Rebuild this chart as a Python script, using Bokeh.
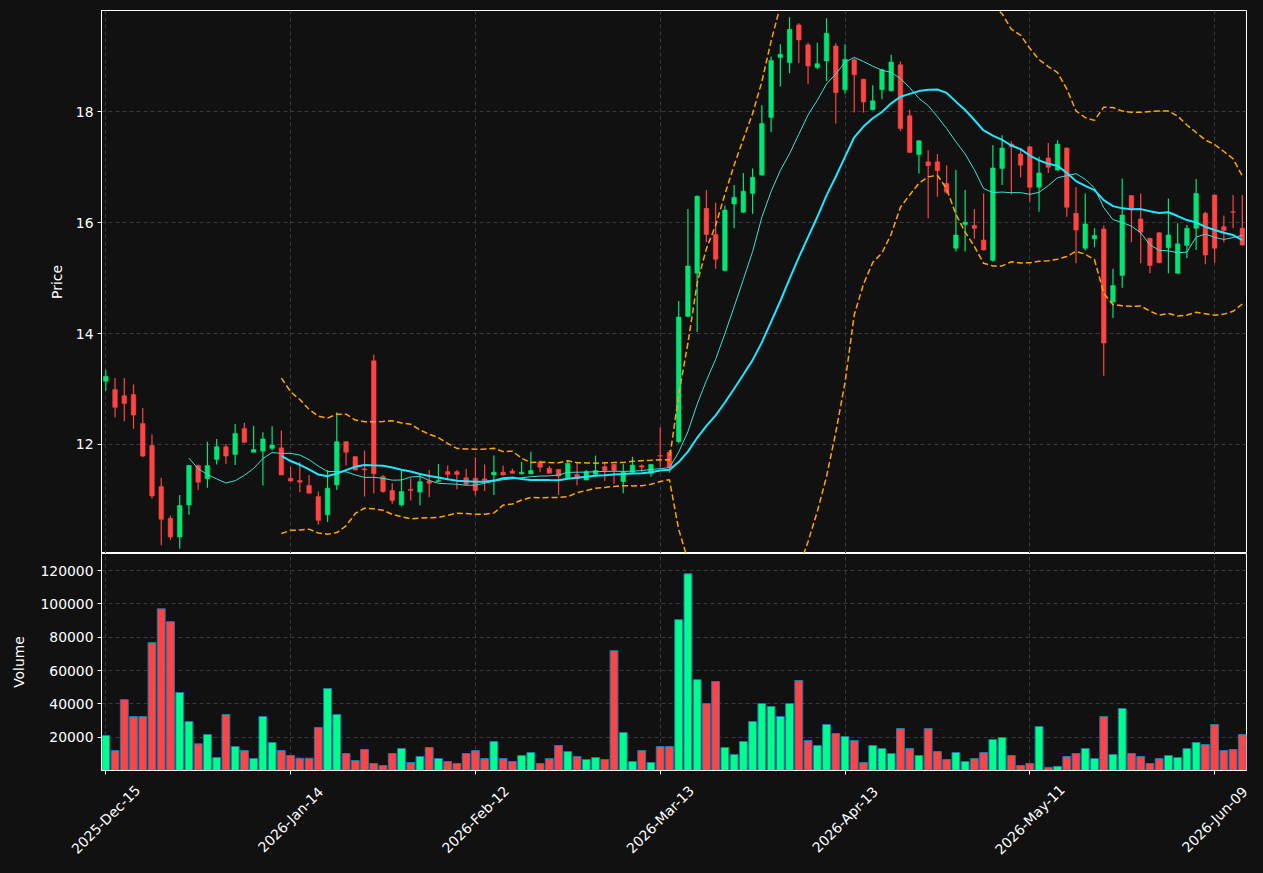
import numpy as np
import pandas as pd
from bokeh.plotting import figure
from bokeh.models import ColumnDataSource, FixedTicker, Range1d
from bokeh.core.properties import value
from bokeh.layouts import column
from bokeh.embed import file_html
from bokeh.resources import INLINE

# ---------------- data ----------------
opens = [13.14, 12.99, 12.88, 12.90, 12.38, 11.98, 11.24, 10.67, 10.33, 10.91,
         11.62, 11.38, 11.73, 11.96, 11.82, 12.29, 11.86, 11.88, 11.93, 11.94,
         11.39, 11.35, 11.26, 11.06, 10.73, 11.27, 12.05, 11.78, 11.56, 13.51,
         11.42, 11.17, 10.91, 11.19, 11.14, 11.34, 11.33, 11.51, 11.51, 11.40,
         11.39, 11.38, 11.45, 11.50, 11.52, 11.47, 11.47, 11.68, 11.57, 11.55,
         11.40, 11.46, 11.36, 11.46, 11.60, 11.64, 11.33, 11.50, 11.62, 11.48,
         11.80, 11.86, 12.05, 14.31, 15.09, 16.26, 15.79, 15.14, 16.34, 16.19,
         16.53, 16.86, 17.90, 18.98, 18.89, 19.57, 19.21, 18.80, 18.92, 19.19,
         18.40, 18.94, 18.59, 18.04, 18.40, 18.38, 18.85, 17.93, 17.23, 17.10,
         17.10, 16.71, 15.54, 15.97, 15.95, 15.69, 15.32, 16.98, 17.42, 17.24,
         17.37, 16.64, 17.17, 16.95, 17.35, 16.17, 15.54, 15.71, 15.89, 14.57,
         15.05, 16.49, 16.07, 15.72, 15.82, 15.55, 15.09, 15.59, 15.90, 16.17,
         16.50, 15.93, 16.20, 15.90]
highs = [13.35, 13.20, 13.20, 13.08, 12.66, 12.18, 11.40, 10.72, 11.09, 11.63,
         11.64, 12.05, 12.10, 12.01, 12.37, 12.39, 12.34, 12.22, 12.33, 12.25,
         11.60, 11.68, 11.45, 11.15, 11.54, 12.58, 12.06, 11.79, 11.89, 13.62,
         11.45, 11.30, 11.53, 11.39, 11.47, 11.54, 11.65, 11.62, 11.54, 11.56,
         11.77, 11.64, 11.80, 11.62, 11.56, 11.69, 11.87, 11.71, 11.61, 11.56,
         11.71, 11.68, 11.54, 11.80, 11.68, 11.65, 11.65, 11.78, 11.64, 11.65,
         12.31, 11.90, 14.59, 16.25, 16.49, 16.59, 16.36, 16.31, 16.68, 16.90,
         16.98, 18.12, 19.00, 19.22, 19.71, 19.60, 19.25, 19.25, 19.69, 19.24,
         19.22, 18.97, 18.60, 18.48, 18.78, 19.03, 18.91, 18.04, 17.49, 17.31,
         17.24, 17.04, 16.95, 16.59, 16.25, 16.53, 17.40, 17.58, 17.47, 17.32,
         17.38, 17.19, 17.44, 17.49, 17.36, 16.64, 16.53, 15.90, 15.95, 15.17,
         16.80, 16.50, 16.53, 15.73, 15.83, 16.44, 15.99, 15.96, 16.79, 16.20,
         16.51, 16.13, 16.50, 16.50]
lows = [12.97, 12.49, 12.42, 12.28, 11.77, 11.02, 10.18, 10.28, 10.12, 10.73,
        11.18, 11.22, 11.64, 11.65, 11.63, 12.03, 11.86, 11.26, 11.89, 11.45,
        11.34, 11.14, 11.12, 10.55, 10.60, 11.18, 11.62, 11.53, 11.06, 11.12,
        11.13, 10.93, 10.88, 10.99, 10.90, 11.05, 11.32, 11.35, 11.19, 11.27,
        11.08, 11.16, 11.09, 11.44, 11.48, 11.46, 11.46, 11.50, 11.48, 11.09,
        11.39, 11.26, 11.35, 11.45, 11.34, 11.29, 11.12, 11.49, 11.51, 11.42,
        11.59, 11.49, 12.02, 14.30, 14.03, 15.65, 15.17, 15.12, 15.90, 16.18,
        16.16, 16.85, 17.64, 18.46, 18.70, 18.88, 18.50, 18.77, 18.56, 17.79,
        18.33, 17.99, 17.99, 18.03, 18.23, 18.37, 17.65, 17.26, 16.89, 16.08,
        16.47, 16.53, 15.48, 15.48, 15.71, 15.50, 15.30, 16.68, 16.51, 16.82,
        16.38, 16.20, 16.90, 16.94, 16.11, 15.27, 15.50, 15.56, 13.24, 14.28,
        14.83, 15.65, 15.27, 15.09, 15.27, 15.09, 15.08, 15.36, 15.51, 15.25,
        15.28, 15.65, 15.90, 15.59]
closes = [13.23, 12.67, 12.74, 12.53, 11.79, 11.07, 10.65, 10.33, 10.90, 11.62,
          11.32, 11.62, 11.96, 11.79, 12.20, 12.04, 11.91, 12.10, 11.99, 11.45,
          11.34, 11.32, 11.12, 10.63, 11.21, 12.05, 11.86, 11.54, 11.54, 11.47,
          11.15, 10.99, 11.15, 11.17, 11.33, 11.30, 11.35, 11.46, 11.46, 11.28,
          11.17, 11.35, 11.50, 11.45, 11.48, 11.50, 11.53, 11.59, 11.48, 11.43,
          11.66, 11.38, 11.51, 11.53, 11.53, 11.53, 11.50, 11.63, 11.59, 11.64,
          11.79, 11.59, 14.30, 15.22, 16.48, 15.79, 15.34, 16.23, 16.46, 16.57,
          16.82, 17.79, 18.93, 19.04, 19.49, 19.30, 18.83, 18.87, 19.42, 18.35,
          18.95, 18.67, 18.18, 18.20, 18.76, 18.90, 17.70, 17.27, 17.48, 17.03,
          16.94, 16.55, 15.78, 16.01, 15.90, 15.51, 16.99, 17.35, 17.37, 17.04,
          16.64, 16.90, 17.00, 17.42, 16.28, 15.87, 15.98, 15.77, 13.83, 14.87,
          16.14, 16.23, 15.83, 15.23, 15.28, 15.78, 15.62, 15.90, 16.53, 15.42,
          15.54, 15.86, 16.19, 15.60]
volumes = [21000, 12000, 42500, 32400, 32400, 76700, 97000, 89300, 46800, 29400,
           16000, 21600, 7800, 33600, 14400, 12000, 7200, 32400, 16800, 12000,
           9000, 7400, 7400, 25800, 49200, 33600, 10200, 6000, 12600, 4200,
           3000, 10200, 13200, 4800, 8400, 13800, 7200, 5400, 4200, 10200,
           12000, 7200, 17400, 7200, 5400, 9000, 10800, 4200, 7200, 15000,
           11400, 8400, 6600, 7800, 6600, 71900, 22800, 5400, 12000, 4800,
           14400, 14400, 90500, 118000, 54500, 40200, 53400, 13800, 9600, 17400,
           29400, 40200, 38400, 32400, 40200, 54000, 18000, 15000, 27600, 22200,
           20400, 18000, 4800, 15000, 13200, 10200, 25200, 13200, 9000, 25200,
           11400, 6600, 10800, 5400, 7200, 10800, 18600, 19800, 9000, 3000,
           4200, 26400, 1900, 2500, 8400, 10200, 13200, 7200, 32400, 9600,
           37200, 10200, 8400, 4200, 7200, 9000, 7800, 13200, 16800, 15600,
           27600, 12000, 12600, 21600]

tick_positions = [0, 20, 40, 60, 80, 100, 120]
tick_labels = ["2025-Dec-15", "2026-Jan-14", "2026-Feb-12", "2026-Mar-13",
               "2026-Apr-13", "2026-May-11", "2026-Jun-09"]
price_ticks = [12, 14, 16, 18]
volume_ticks = [20000, 40000, 60000, 80000, 100000, 120000]

# ---------------- style ----------------
BG = "#111111"
UP = "#00E676"
DOWN = "#FF4444"
VUP = "#00FF88"
VDOWN = "#FF4444"
GRID = "#3a3a3a"
FONT = "DejaVu Sans"
FS = "13.9px"

W = 1263
LEFT, RIGHT = 101, 17
X0, X1 = -0.465, 123.45

n = len(closes)
idx = list(range(n))
up = [c >= o for o, c in zip(opens, closes)]
cdf = pd.DataFrame(dict(x=idx, open=opens, high=highs, low=lows, close=closes, volume=volumes))
cdf["top"] = np.maximum(cdf["open"], cdf["close"])
cdf["bottom"] = np.minimum(cdf["open"], cdf["close"])
cdf["color"] = [UP if u else DOWN for u in up]
cdf["vcolor"] = [VUP if u else VDOWN for u in up]

close_s = pd.Series(closes)
sma10 = close_s.rolling(10).mean()
sma20 = close_s.rolling(20).mean()
std20 = close_s.rolling(20).std(ddof=0)
upper = sma20 + 2 * std20
lower = sma20 - 2 * std20
ind = ColumnDataSource(dict(x=idx, sma10=sma10, sma20=sma20, upper=upper, lower=lower))
src = ColumnDataSource(cdf)

x_range = Range1d(X0, X1)


def style(p):
    p.background_fill_color = BG
    p.border_fill_color = BG
    p.outline_line_color = "white"
    p.outline_line_width = 1
    for ax in p.axis:
        ax.axis_line_color = "white"
        ax.major_tick_line_color = "white"
        ax.minor_tick_line_color = None
        ax.major_tick_out = 4
        ax.major_tick_in = 0
        ax.major_label_text_color = "white"
        ax.major_label_text_font = FONT
        ax.major_label_text_font_size = FS
        ax.axis_label_text_color = "white"
        ax.axis_label_text_font = FONT
        ax.axis_label_text_font_size = FS
        ax.axis_label_text_font_style = "normal"
    for g in p.grid:
        g.grid_line_color = GRID
        g.grid_line_dash = "4 3"
        g.grid_line_width = 1


# ---------------- price ----------------
p1 = figure(width=W, height=553, x_range=x_range, y_range=Range1d(10.033, 19.83),
            output_backend="svg", toolbar_location=None,
            min_border_left=LEFT, min_border_right=RIGHT, min_border_top=10, min_border_bottom=0)
p1.xaxis.visible = False
p1.xgrid.ticker = FixedTicker(ticks=tick_positions)
p1.yaxis.ticker = FixedTicker(ticks=price_ticks)
p1.yaxis.axis_label = "Price"
p1.yaxis.axis_label_standoff = 8
p1.yaxis.major_label_standoff = 4
style(p1)

p1.segment(x0="x", y0="low", x1="x", y1="high", color="color", line_width=1.2, source=src)
p1.vbar(x="x", width=0.5, top="top", bottom="bottom", fill_color="color", line_color="color",
        line_width=0.5, source=src)
p1.line("x", "upper", source=ind, line_color="#FFA500", line_width=1.5, line_dash="6 3")
p1.line("x", "lower", source=ind, line_color="#FFA500", line_width=1.5, line_dash="6 3")
p1.line("x", "sma10", source=ind, line_color="#40E0D0", line_width=1)
p1.line("x", "sma20", source=ind, line_color="#1EE8FF", line_width=2)

# ---------------- volume ----------------
VB = 10
p2 = figure(width=W, height=217 + VB, x_range=x_range, y_range=Range1d(0, 130200),
            output_backend="svg", toolbar_location=None,
            min_border_left=LEFT, min_border_right=RIGHT, min_border_top=0, min_border_bottom=VB)
p2.xaxis.ticker = FixedTicker(ticks=tick_positions)
p2.yaxis.ticker = FixedTicker(ticks=volume_ticks)
p2.yaxis.major_label_overrides = {t: str(t) for t in volume_ticks}
p2.yaxis.axis_label = "Volume"
p2.yaxis.axis_label_standoff = 10
p2.yaxis.major_label_standoff = 4
style(p2)
p2.xaxis.major_label_text_font_size = "0px"
p2.xaxis.major_label_standoff = 0
p2.xaxis.major_label_overrides = {t: "" for t in tick_positions}

p2.vbar(x="x", width=0.85, top="volume", bottom=0, fill_color="vcolor", line_color="#1f77b4",
        line_width=1, source=src)

# ---------------- date labels strip (centred, rotated 45 deg) ----------------
H3 = 873 - 553 - (217 + VB)
scale = (W - LEFT - RIGHT) / (X1 - X0)
px0 = LEFT - X0 * scale
p3 = figure(width=W, height=H3, x_range=Range1d(-px0 / scale, (W - px0) / scale),
            y_range=Range1d(0, H3), output_backend="svg", toolbar_location=None,
            x_axis_location=None, y_axis_location=None,
            min_border_left=0, min_border_right=0, min_border_top=0, min_border_bottom=0,
            outline_line_color=None, background_fill_color=BG, border_fill_color=BG)
p3.grid.visible = False
lab_src = ColumnDataSource(dict(x=tick_positions, y=[H3 - (819 - 553 - 217 - VB)] * len(tick_positions),
                                text=tick_labels))
p3.text(x="x", y="y", text="text", source=lab_src, angle=np.pi / 4,
        text_align="center", text_baseline="middle", text_color="white",
        text_font=value(FONT), text_font_size=value(FS))

inner = column(p1, p2, spacing=0, styles={"background-color": BG})
layout = column(inner, p3, spacing=0, styles={"background-color": BG})
open("out.html", "w").write(file_html(layout, INLINE))
